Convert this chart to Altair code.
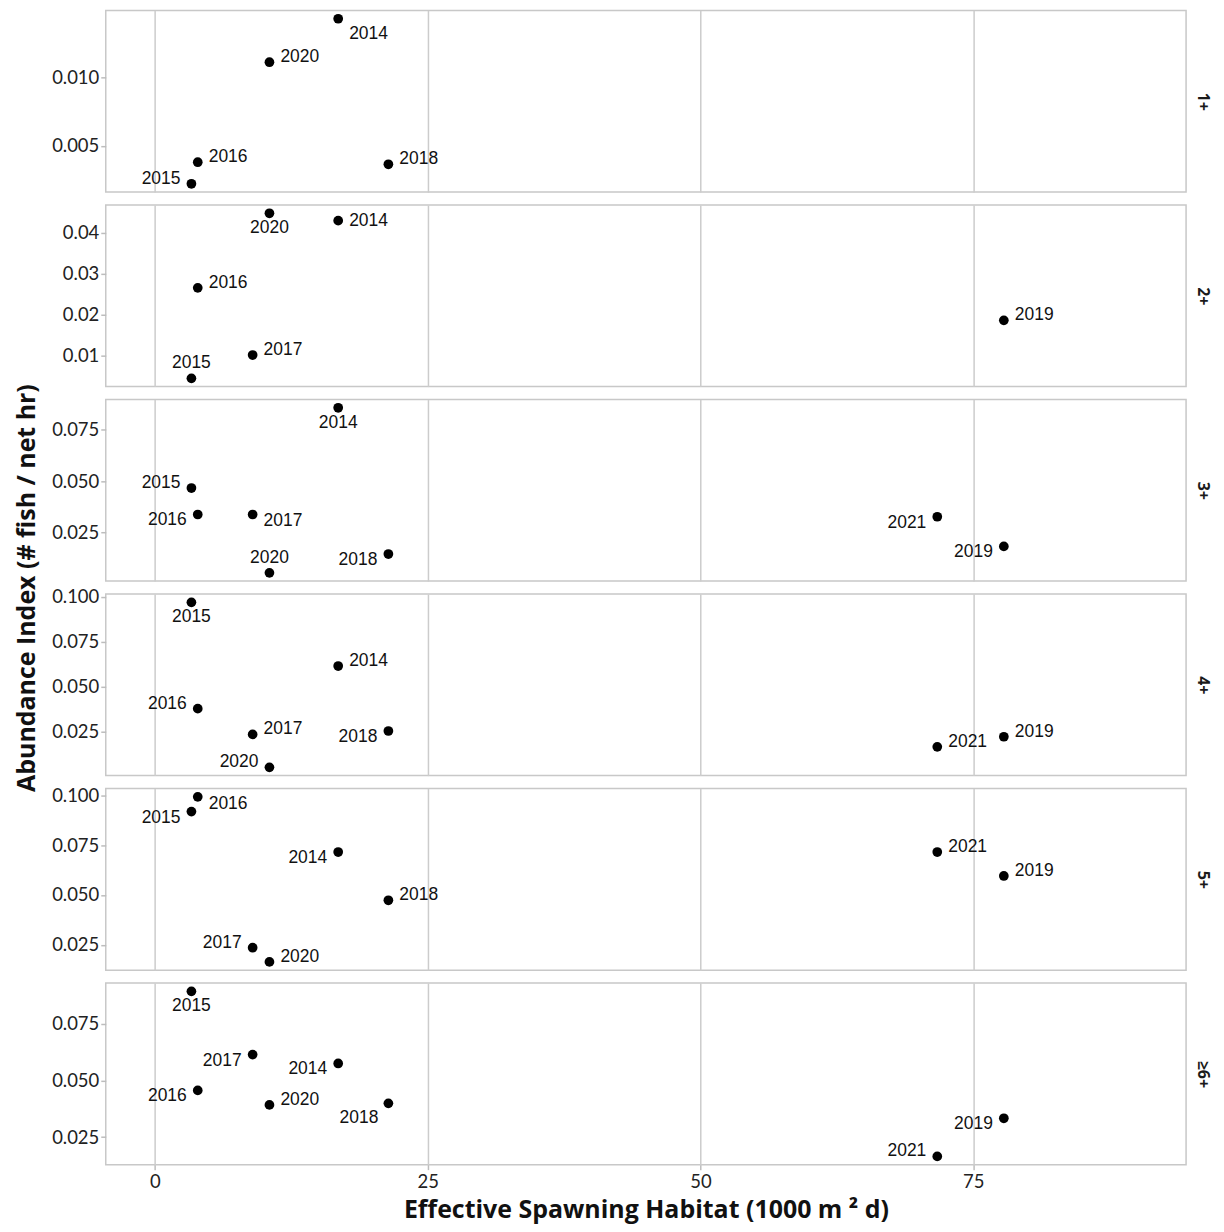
import altair as alt
import pandas as pd

# ---------------- data ----------------
years = [2014, 2015, 2016, 2017, 2018, 2019, 2020, 2021]
habitat = [16.8, 3.35, 3.93, 8.96, 21.4, 77.8, 10.5, 71.7]  # 1000 m^2 d

ages = ["1+", "2+", "3+", "4+", "5+", "≥6+"]
abund_1 = [0.0143, 0.00222, 0.0038, None, 0.00365, None, 0.01112, None]
abund_2 = [0.0429, 0.00453, 0.02655, 0.0102, None, 0.01864, 0.0447, None]
abund_3 = [0.0858, 0.0467, 0.0338, 0.0338, 0.01453, 0.01824, 0.00536, 0.0327]
abund_4 = [0.0615, 0.0969, 0.0378, 0.0235, 0.0254, 0.0222, 0.0052, 0.0166]
abund_5 = [0.0715, 0.0918, 0.0992, 0.0235, 0.0473, 0.0595, 0.0164, 0.0715]
abund_6 = [0.0575, 0.0893, 0.0456, 0.0614, 0.0399, 0.0333, 0.0392, 0.0165]
abundance = dict(zip(ages, [abund_1, abund_2, abund_3, abund_4, abund_5, abund_6]))

x_ticks = [0, 25, 50, 75]
y_ticks = {
    "1+": [0.005, 0.010],
    "2+": [0.01, 0.02, 0.03, 0.04],
    "3+": [0.025, 0.05, 0.075],
    "4+": [0.025, 0.05, 0.075, 0.1],
    "5+": [0.025, 0.05, 0.075, 0.1],
    "≥6+": [0.025, 0.05, 0.075],
}
y_formats = {"1+": ".3f", "2+": ".2f", "3+": ".3f", "4+": ".3f", "5+": ".3f", "≥6+": ".3f"}

# where each year label sits relative to its point (presentation)
label_side = {
    "1+": {2014: "rb", 2015: "l", 2016: "r", 2018: "r", 2020: "r"},
    "2+": {2014: "r0", 2015: "a", 2016: "r", 2017: "r", 2019: "r", 2020: "b"},
    "3+": {2014: "b", 2015: "l", 2016: "ld", 2017: "rd", 2018: "ld", 2019: "ld", 2020: "a", 2021: "ld"},
    "4+": {2014: "r", 2015: "b", 2016: "l", 2017: "r", 2018: "ld", 2019: "r", 2020: "l", 2021: "r"},
    "5+": {2014: "ld", 2015: "ld", 2016: "rd", 2017: "l", 2018: "r", 2019: "r", 2020: "r", 2021: "r"},
    "≥6+": {2014: "ld", 2015: "b", 2016: "ld", 2017: "ld", 2018: "lb", 2019: "ld", 2020: "r", 2021: "l"},
}

PLACE = {
    "r": dict(align="left", dx=11, dy=-5),
    "r0": dict(align="left", dx=11, dy=0),
    "rd": dict(align="left", dx=11, dy=7),
    "rb": dict(align="left", dx=11, dy=15),
    "l": dict(align="right", dx=-11, dy=-5),
    "ld": dict(align="right", dx=-11, dy=6),
    "lb": dict(align="right", dx=-10, dy=15),
    "b": dict(align="center", dx=0, dy=15),
    "a": dict(align="center", dx=0, dy=-15),
}

rows = []
for age in ages:
    for yr, hx, v in zip(years, habitat, abundance[age]):
        if v is None:
            continue
        rows.append(dict(age=age, year=str(yr), habitat=hx, index=v, place=label_side[age][yr]))
df = pd.DataFrame(rows)

# ---------------- style ----------------
FONT = "Liberation Sans"
TICKFONT = "Lato"
TFONT = "Open Sans"
GRID = "#cccccc"
W, H = 1083, 182
GAP = 13
PAD_PX = H * 0.05 / 1.1
TOTAL_H = len(ages) * H + (len(ages) - 1) * GAP

x_title = "Effective Spawning Habitat (1000 m ² d)"
y_title = "Abundance Index (# fish / net hr)"

xscale = alt.Scale(domain=[-4.5, 94.5], nice=False, zero=False)

panels = []
for i, age in enumerate(ages):
    sub = df[df.age == age].reset_index(drop=True)
    last = i == len(ages) - 1
    if last:
        x_enc = alt.X("habitat:Q", scale=xscale, title=x_title,
                      axis=alt.Axis(values=x_ticks, grid=True, labels=True, ticks=True,
                                    labelPadding=3, titlePadding=6))
    else:
        x_enc = alt.X("habitat:Q", scale=xscale, title=None,
                      axis=alt.Axis(values=x_ticks, grid=True, labels=False, ticks=False))
    yscale = alt.Scale(zero=False, nice=False, padding=PAD_PX)

    if i == 0:
        y_main = alt.Y("index:Q", scale=yscale, title=y_title,
                       axis=alt.Axis(values=y_ticks[age], format=y_formats[age], grid=False,
                                     titleY=TOTAL_H / 2, titlePadding=12))
    else:
        y_main = alt.Y("index:Q", scale=yscale, title=None,
                       axis=alt.Axis(values=y_ticks[age], format=y_formats[age], grid=False))

    points = alt.Chart(sub).mark_circle(size=95, color="black", opacity=1).encode(
        x=x_enc, y=y_main
    )
    ghost = alt.Chart(sub).mark_circle(opacity=0).encode(
        x=x_enc,
        y=alt.Y("index:Q", scale=yscale, title=age,
                axis=alt.Axis(orient="right", labels=False, ticks=False, domain=False, grid=False,
                              titleAngle=90, titlePadding=8, titleFont=TFONT,
                              titleFontSize=16, titleFontWeight="bold", titleColor="#1a1a1a")),
    )
    texts = []
    for key, st in PLACE.items():
        if key not in set(sub.place):
            continue
        t = alt.Chart(sub).transform_filter(alt.datum.place == key).mark_text(
            font=FONT, fontSize=17.5, color="#111111", baseline="middle", **st
        ).encode(
            x=x_enc,
            y=alt.Y("index:Q", scale=yscale, axis=None),
            text="year:N",
        )
        texts.append(t)
    layer = alt.layer(points, ghost, *texts).resolve_axis(y="independent").properties(width=W, height=H)
    panels.append(layer)

chart = alt.vconcat(*panels, spacing=GAP, bounds="flush").properties(
    padding={"left": 5, "top": 0, "right": 5, "bottom": 5}
).configure_view(
    stroke="#c8c8c8", strokeWidth=1.5
).configure_axis(
    labelFont=TICKFONT, labelFontSize=18.5, labelColor="#222222",
    tickColor="#bdbdbd", tickSize=5, tickWidth=1.5, domain=False,
    gridColor=GRID, gridWidth=1.5,
    titleFont=TFONT, titleFontWeight="bold", titleFontSize=25, titleColor="#111111",
)

chart.save("out.html", embed_options={"renderer": "svg", "actions": False})
